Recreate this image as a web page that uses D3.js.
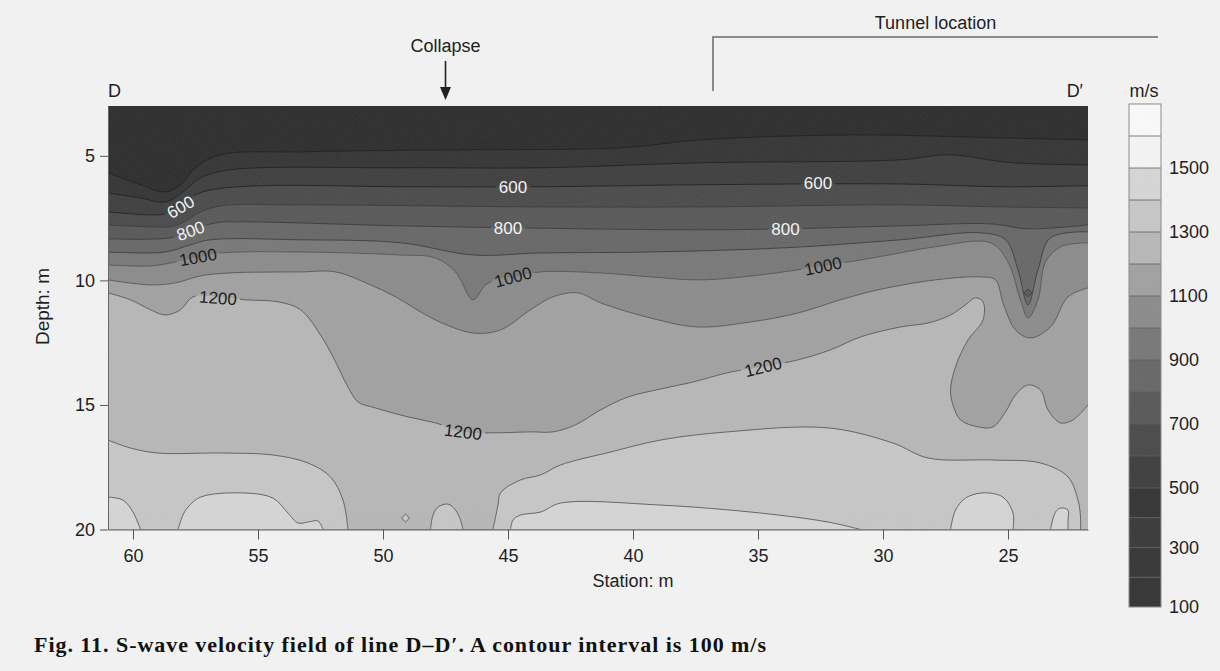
<!DOCTYPE html>
<html>
<head>
<meta charset="utf-8">
<script src="https://cdn.jsdelivr.net/npm/d3@7"></script>
<style>
body { margin: 0; background: #f1f1f1; }
</style>
</head>
<body>
<div id="chart"></div>
<script>
// axis ticks
var stationTicks = [60, 55, 50, 45, 40, 35, 30, 25]
var depthTicks = [5, 10, 15, 20]
var legendTicks = [1500, 1300, 1100, 900, 700, 500, 300, 100]
var bandFloor = [100, 200, 300, 400, 500, 600, 700, 800, 900, 1000, 1100, 1200, 1300, 1400, 1500, 1600]

// annotations (station, m)
var collapseStation = 47.5
var tunnelStart = 36.8
var tunnelEnd = 19.0

var c400 = [[61,5.68],[59.7,6.16],[58.7,6.45],[58.1,6.16],[57.5,5.48],[56.5,4.96],[53.3,4.84],[47.3,4.76],[40.5,4.68],[37.3,4.36],[31.3,4.16],[25.3,4.28],[21.8,4.36]]
var c500 = [[61,6.49],[59.7,6.69],[58.7,6.85],[57.9,6.37],[57.3,5.88],[56.1,5.56],[49.3,5.48],[43.7,5.48],[37.3,5.28],[29.3,5.16],[27.4,4.96],[24.8,5.28],[21.8,5.36]]
var c600 = [[61,7.25],[59.3,7.37],[58.7,7.33],[58.1,7.05],[57.5,6.57],[56.9,6.37],[54.9,6.2],[49.3,6.24],[43.7,6.24],[37.3,6.16],[29.3,6.13],[25.3,6.24],[21.8,6.2]]
var c700 = [[61,7.77],[59.3,7.85],[58.3,7.81],[57.7,7.49],[57.3,7.25],[56.5,7.01],[53.3,6.97],[43.7,7.05],[37.3,7.05],[29.3,6.97],[25.3,7.05],[21.8,7.09]]
var c800 = [[61,8.33],[58.5,8.29],[57.7,8.01],[56.7,7.69],[55.7,7.65],[49.3,7.81],[44.8,7.89],[37.3,7.97],[33.9,7.93],[29.3,7.81],[25.7,7.73],[24.2,7.93],[21.8,7.77]]
var c800dip = [[24.2,10.34],[24.04,10.5],[24.2,10.66],[24.36,10.5]]
var c900 = [[61,8.86],[58.7,8.86],[57.7,8.57],[56.9,8.37],[53.3,8.37],[49.3,8.49],[46.4,8.98],[43.7,8.9],[39.3,8.86],[33.9,8.69],[29.3,8.37],[26.1,8.09],[25.1,8.37],[24.6,9.58],[24.2,10.98],[23.8,9.58],[23.3,8.29],[21.8,8.05]]
var c1000 = [[61,9.38],[59.3,9.42],[58.3,9.26],[57.4,9.06],[56.5,8.9],[53.3,8.86],[49.3,8.98],[47.9,9.1],[47.1,9.66],[46.4,10.78],[45.9,10.18],[45.3,9.9],[44.8,9.86],[43.7,9.66],[41.3,9.7],[39.3,9.86],[37.3,9.98],[34.9,9.78],[32.4,9.42],[30.2,9.06],[27.9,8.65],[25.7,8.49],[25.0,9.26],[24.5,10.78],[24.2,11.51],[23.8,10.78],[23.5,9.26],[22.9,8.65],[21.8,8.49]]
var c1100 = [[61,9.98],[59.3,10.18],[58.3,10.1],[57.3,9.82],[56.1,9.7],[53.3,9.66],[51.9,9.66],[50.5,10.18],[49.5,10.66],[47.9,11.59],[46.4,12.11],[45.3,11.99],[44.1,11.18],[43.2,10.66],[42.2,10.5],[41.3,10.9],[39.3,11.51],[37.4,11.87],[35.3,11.67],[33.4,11.31],[31.7,10.78],[30.2,10.38],[27.9,9.98],[26.1,9.86],[25.5,9.98],[25.2,10.9],[24.7,11.99],[24.1,12.31],[23.3,11.87],[22.6,10.66],[21.8,10.3]]
var c1200 = [[61,10.5],[60.1,10.78],[59.3,11.18],[58.7,11.39],[58.1,11.18],[57.6,10.66],[56.6,10.66],[55.5,10.78],[54.2,10.86],[53.3,11.18],[52.5,12.19],[52.0,13.07],[51.4,14.28],[51.0,14.88],[50.3,15.12],[49.0,15.48],[47.9,15.72],[46.8,16.08],[45.6,16.12],[44.1,16.08],[43.2,16.08],[42.3,15.8],[41.3,15.2],[40.2,14.68],[38.9,14.36],[37.6,14.08],[36.1,13.68],[34.8,13.47],[33.4,13.19],[32.1,12.79],[30.9,12.27],[29.3,11.87],[28.2,11.71],[27.3,11.39],[26.7,10.98],[26.3,10.7],[26.0,10.86],[26.0,11.59],[26.6,12.39],[27.1,13.47],[27.3,14.4],[27.2,15.0],[26.9,15.6],[26.2,15.88],[25.6,15.88],[25.1,15.28],[24.7,14.6],[24.2,14.2],[23.7,14.4],[23.4,15.2],[22.9,15.72],[22.4,15.6],[21.8,15.0]]
var c1300a = [[61,16.41],[60.1,16.73],[59.0,16.93],[56.4,16.93],[54.4,17.01],[53.0,17.33],[52.1,17.89],[51.6,18.82],[51.4,20]]
var c1300b = [[45.6,20],[45.4,19.02],[45.3,18.53],[44.5,18.01],[43.7,17.81],[42.9,17.41],[40.9,16.89],[38.9,16.41],[36.2,16.08],[32.2,15.92],[29.6,16.53],[28.2,17.13],[25.6,17.21],[23.7,17.33],[22.6,17.89],[22.2,18.82],[22.1,19.5],[22.1,20]]
var c1300c = [[48.1,20],[48.0,19.42],[47.8,19.1],[47.4,18.98],[47.1,19.22],[46.9,19.62],[46.8,20]]
var c1300d = [[49.1,19.38],[48.94,19.54],[49.1,19.7],[49.26,19.54]]
var c1400a = [[61,18.7],[60.4,18.82],[60.0,19.3],[59.7,20]]
var c1400b = [[58.2,20],[58.0,19.42],[57.8,19.1],[57.3,18.7],[55.7,18.53],[54.4,18.74],[53.8,19.34],[53.4,19.74],[53.0,19.7],[52.6,19.66],[52.4,20]]
var c1400c = [[44.9,20],[44.8,19.62],[44.5,19.42],[43.7,19.3],[42.9,18.94],[38.9,19.02],[34.9,19.34],[32.2,19.7],[30.9,20]]
var c1400d = [[27.3,20],[27.1,19.22],[26.7,18.74],[26.0,18.53],[25.2,18.7],[24.8,19.34],[24.8,20]]
var c1400e = [[23.3,20],[23.1,19.3],[22.9,19.14],[22.6,19.22],[22.6,19.62],[22.6,20]]

// painted low to high, "hole" = closed contour around slower material
var contourPieces = [
    {level: 400, pts: c400}, {level: 500, pts: c500}, {level: 600, pts: c600},
    {level: 700, pts: c700}, {level: 800, pts: c800}, {level: 800, pts: c800dip, closed: true, hole: true},
    {level: 900, pts: c900}, {level: 1000, pts: c1000}, {level: 1100, pts: c1100},
    {level: 1200, pts: c1200},
    {level: 1300, pts: c1300a}, {level: 1300, pts: c1300b}, {level: 1300, pts: c1300c}, {level: 1300, pts: c1300d, closed: true},
    {level: 1400, pts: c1400a}, {level: 1400, pts: c1400b}, {level: 1400, pts: c1400c}, {level: 1400, pts: c1400d}, {level: 1400, pts: c1400e}
]

var contourLabels = [
    {text: "600", s: 58.1, d: 7.05, angle: -30, light: true},
    {text: "800", s: 57.7, d: 8.0, angle: -20, light: true},
    {text: "1000", s: 57.4, d: 9.06, angle: -10},
    {text: "1200", s: 56.6, d: 10.7, angle: 4},
    {text: "600", s: 44.8, d: 6.24, angle: 0, light: true},
    {text: "800", s: 45.0, d: 7.9, angle: 0, light: true},
    {text: "1000", s: 44.8, d: 9.86, angle: -15},
    {text: "1200", s: 46.8, d: 16.08, angle: 7},
    {text: "600", s: 32.6, d: 6.1, angle: 0, light: true},
    {text: "800", s: 33.9, d: 7.93, angle: 0, light: true},
    {text: "1000", s: 32.4, d: 9.42, angle: -12},
    {text: "1200", s: 34.8, d: 13.47, angle: -14}
]

var bandShade = ["#343434", "#363636", "#2c2c2c", "#343434", "#3e3e3e", "#4a4a4a", "#585858", "#676767", "#787878", "#8b8b8b", "#a1a1a1", "#b7b7b7", "#c7c7c7", "#d6d6d6", "#f5f5f5", "#fafafa"]
var sans = "Liberation Sans, Arial, sans-serif"

var width = 1220
var height = 671

var svg = d3.select("#chart")
    .append("svg")
        .attr("width", width)
        .attr("height", height)
        .style("font-family", sans)

svg.append("rect").attr("width", width).attr("height", height).attr("fill", "#f1f1f1")

var x = d3.scaleLinear().domain([61, 21.8]).range([108, 1088])
var y = d3.scaleLinear().domain([3, 20]).range([106, 529.5])
var shade = d3.scaleThreshold().domain(bandFloor.slice(1)).range(bandShade)

var defs = svg.append("defs")
defs.append("clipPath").attr("id", "plotClip")
    .append("rect")
        .attr("x", x(61)).attr("y", y(3))
        .attr("width", x(21.8) - x(61)).attr("height", y(20) - y(3))

var grain = defs.append("filter").attr("id", "grain")
    .attr("x", 0).attr("y", 0).attr("width", 1).attr("height", 1)
grain.append("feTurbulence").attr("type", "fractalNoise").attr("baseFrequency", 0.9).attr("numOctaves", 2).attr("seed", 4)
grain.append("feColorMatrix").attr("type", "saturate").attr("values", 0)

var line = d3.line()
    .x(function(d){ return x(d[0]) })
    .y(function(d){ return y(d[1]) })
    .curve(d3.curveCatmullRom.alpha(0.5))
var closedLine = d3.line()
    .x(function(d){ return x(d[0]) })
    .y(function(d){ return y(d[1]) })
    .curve(d3.curveLinearClosed)

function fillPath(p){
    if (p.closed) return closedLine(p.pts)
    var first = p.pts[0], last = p.pts[p.pts.length - 1]
    return line(p.pts) + "L" + x(last[0]) + "," + y(20) + "L" + x(first[0]) + "," + y(20) + "Z"
}

// mask gaps in the contour lines under the labels
var mask = defs.append("mask").attr("id", "labelGaps")
mask.append("rect").attr("width", width).attr("height", height).attr("fill", "white")
mask.selectAll("rect.gap")
    .data(contourLabels)
    .enter()
    .append("rect")
        .attr("class", "gap")
        .attr("x", function(d){ return -(d.text.length * 9.5 + 6) / 2 })
        .attr("y", -8)
        .attr("width", function(d){ return d.text.length * 9.5 + 6 })
        .attr("height", 16)
        .attr("fill", "black")
        .attr("transform", function(d){ return "translate(" + x(d.s) + "," + y(d.d) + ") rotate(" + d.angle + ")" })

var plot = svg.append("g").attr("clip-path", "url(#plotClip)")

plot.append("rect")
    .attr("x", x(61)).attr("y", y(3))
    .attr("width", x(21.8) - x(61)).attr("height", y(20) - y(3))
    .attr("fill", shade(300))

plot.selectAll("path.band")
    .data(contourPieces)
    .enter()
    .append("path")
        .attr("class", "band")
        .attr("d", fillPath)
        .attr("fill", function(d){ return d.hole ? shade(d.level - 100) : shade(d.level) })

plot.append("rect")
    .attr("x", x(61)).attr("y", y(3))
    .attr("width", x(21.8) - x(61)).attr("height", y(20) - y(3))
    .attr("filter", "url(#grain)")
    .attr("opacity", 0.1)

plot.append("g")
    .attr("mask", "url(#labelGaps)")
    .selectAll("path")
    .data(contourPieces)
    .enter()
    .append("path")
        .attr("d", function(d){ return d.closed ? closedLine(d.pts) : line(d.pts) })
        .attr("fill", "none")
        .attr("stroke", function(d){ return d.level < 700 ? "#222" : (d.level < 1000 ? "#3c3c3c" : "#555") })
        .attr("stroke-width", 0.85)

plot.selectAll("text.clabel")
    .data(contourLabels)
    .enter()
    .append("text")
        .attr("class", "clabel")
        .attr("transform", function(d){ return "translate(" + x(d.s) + "," + y(d.d) + ") rotate(" + d.angle + ")" })
        .attr("text-anchor", "middle")
        .attr("dy", "0.36em")
        .attr("font-size", 17)
        .attr("fill", function(d){ return d.light ? "#f2f2f2" : "#1c1c1c" })
        .text(function(d){ return d.text })

// axes
var yAxis = d3.axisLeft(y).tickValues(depthTicks).tickSize(8).tickSizeOuter(0).tickPadding(5)
var gy = svg.append("g").attr("transform", "translate(" + x(61) + ",0)").call(yAxis)
var xAxis = d3.axisBottom(x).tickValues(stationTicks).tickSize(10).tickSizeOuter(0).tickPadding(10)
var gx = svg.append("g").attr("transform", "translate(0," + y(20) + ")").call(xAxis)
;[gx, gy].forEach(function(g){
    g.attr("font-size", 18).attr("font-family", sans)
    g.selectAll("text").attr("fill", "#1e1e1e")
    g.selectAll("line").attr("stroke", "#555")
    g.select(".domain").attr("stroke", "#666")
})

svg.append("text")
    .attr("transform", "translate(49," + y(11.05) + ") rotate(-90)")
    .attr("text-anchor", "middle")
    .attr("font-size", 19)
    .attr("fill", "#1e1e1e")
    .text("Depth: m")

svg.append("text")
    .attr("x", x(40)).attr("y", 587)
    .attr("text-anchor", "middle")
    .attr("font-size", 18)
    .attr("fill", "#1e1e1e")
    .text("Station: m")

svg.append("text").attr("x", x(61)).attr("y", 97).attr("font-size", 18).attr("fill", "#1e1e1e").text("D")
svg.append("text").attr("x", 1083).attr("y", 97).attr("text-anchor", "end").attr("font-size", 18).attr("fill", "#1e1e1e").text("D\u2032")

// collapse arrow
svg.append("text")
    .attr("x", x(collapseStation)).attr("y", 52)
    .attr("text-anchor", "middle")
    .attr("font-size", 18)
    .attr("fill", "#1e1e1e")
    .text("Collapse")
svg.append("line")
    .attr("x1", x(collapseStation)).attr("x2", x(collapseStation))
    .attr("y1", 61).attr("y2", 90)
    .attr("stroke", "#222").attr("stroke-width", 1.6)
svg.append("path")
    .attr("d", "M" + (x(collapseStation) - 5.5) + ",87L" + (x(collapseStation) + 5.5) + ",87L" + x(collapseStation) + ",100Z")
    .attr("fill", "#222")

// tunnel bracket
svg.append("path")
    .attr("d", "M" + x(tunnelStart) + ",91V37H" + x(tunnelEnd))
    .attr("fill", "none")
    .attr("stroke", "#6a6a6a")
    .attr("stroke-width", 1.5)
svg.append("text")
    .attr("x", (x(tunnelStart) + x(tunnelEnd)) / 2).attr("y", 29)
    .attr("text-anchor", "middle")
    .attr("font-size", 18)
    .attr("fill", "#1e1e1e")
    .text("Tunnel location")

// colour bar
var cbY = d3.scaleLinear().domain([100, 500, 1700]).range([607, 488, 104])
var cb = svg.append("g")
cb.selectAll("rect.band")
    .data(bandFloor)
    .enter()
    .append("rect")
        .attr("class", "band")
        .attr("x", 1129).attr("width", 32)
        .attr("y", function(d){ return cbY(d + 100) })
        .attr("height", function(d){ return cbY(d) - cbY(d + 100) })
        .attr("fill", function(d){ return d === 300 ? "#393939" : shade(d) })
cb.selectAll("line")
    .data(bandFloor.slice(1))
    .enter()
    .append("line")
        .attr("x1", 1129).attr("x2", 1161)
        .attr("y1", function(d){ return cbY(d) }).attr("y2", function(d){ return cbY(d) })
        .attr("stroke", "#5a5a5a").attr("stroke-width", 0.8)
cb.append("rect")
    .attr("x", 1129).attr("y", cbY(1700)).attr("width", 32).attr("height", cbY(100) - cbY(1700))
    .attr("fill", "none").attr("stroke", "#8a8a8a")
cb.append("rect")
    .attr("x", 1129).attr("y", cbY(1700)).attr("width", 32).attr("height", cbY(100) - cbY(1700))
    .attr("filter", "url(#grain)").attr("opacity", 0.08)
cb.selectAll("text")
    .data(legendTicks)
    .enter()
    .append("text")
        .attr("x", 1169)
        .attr("y", function(d){ return cbY(d) })
        .attr("dy", "0.36em")
        .attr("font-size", 18)
        .attr("fill", "#1e1e1e")
        .text(function(d){ return d })
svg.append("text")
    .attr("x", 1144).attr("y", 97)
    .attr("text-anchor", "middle")
    .attr("font-size", 18)
    .attr("fill", "#1e1e1e")
    .text("m/s")

// caption
svg.append("text")
    .attr("x", 34).attr("y", 652)
    .style("font-family", "'Liberation Serif', 'Times New Roman', serif")
    .attr("font-weight", "bold")
    .attr("font-size", 22)
    .attr("fill", "#111")
    .attr("textLength", 732)
    .attr("lengthAdjust", "spacing")
    .text("Fig. 11. S-wave velocity field of line D\u2013D\u2032. A contour interval is 100 m/s")
</script>
</body>
</html>
